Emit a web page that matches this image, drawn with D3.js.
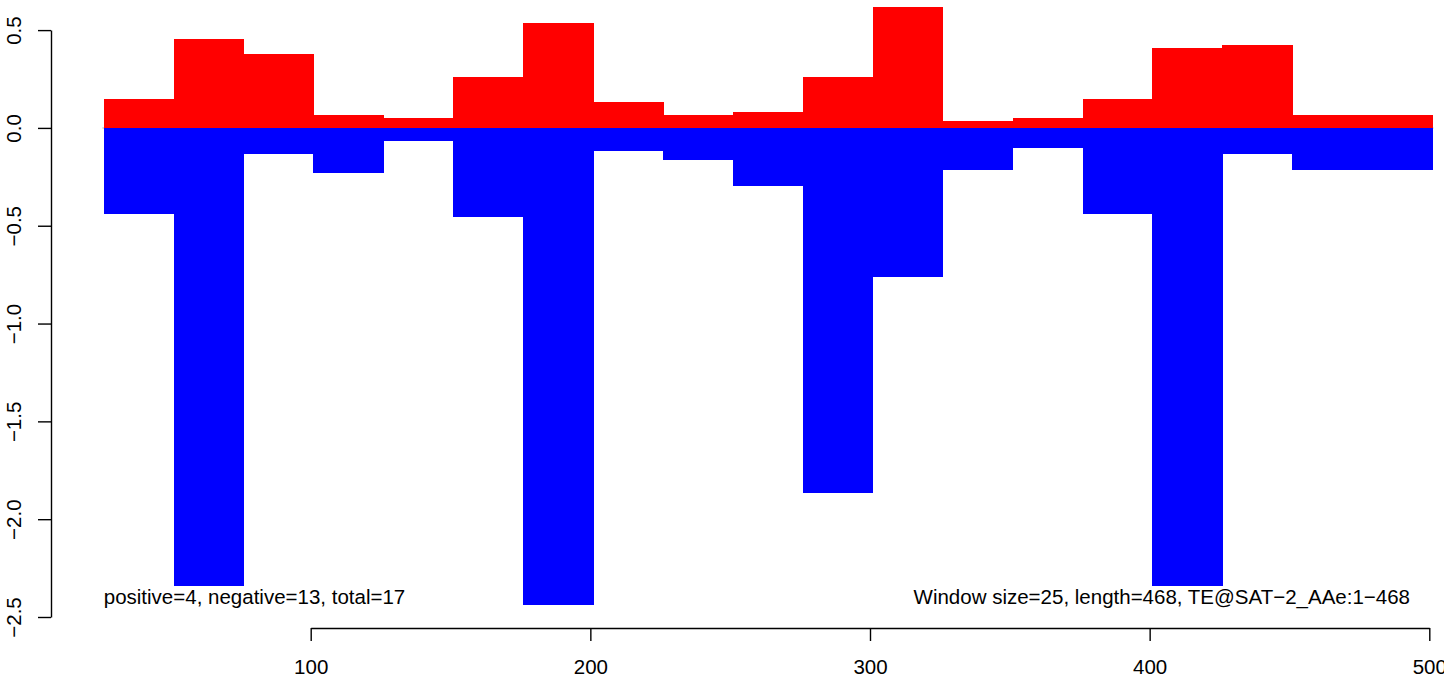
<!DOCTYPE html>
<html>
<head>
<meta charset="utf-8">
<script src="https://cdn.jsdelivr.net/npm/d3@7"></script>
<style>
  body { margin: 0; background: #fff; }
  svg text { font-family: "Liberation Sans", Arial, Helvetica, sans-serif; }
</style>
</head>
<body>
<div id="chart"></div>
<script>
// window scan: positive part in red, negative part in blue, one bar per window
const winStart = [26, 51, 76, 101, 126, 151, 176, 201, 226, 251, 276, 301, 326, 351, 376, 401, 426, 451, 476];
const winSize = 25;
const posVals = [0.147, 0.453, 0.377, 0.065, 0.050, 0.259, 0.535, 0.131, 0.065, 0.080,
                 0.259, 0.617, 0.034, 0.050, 0.147, 0.407, 0.423, 0.065, 0.065];
const negVals = [-0.441, -2.340, -0.134, -0.231, -0.068, -0.456, -2.437, -0.119, -0.165, -0.298,
                 -1.867, -0.763, -0.216, -0.104, -0.441, -2.340, -0.134, -0.216, -0.216];
const xTicks = [100, 200, 300, 400, 500];
const yTicks = [-2.5, -2.0, -1.5, -1.0, -0.5, 0.0, 0.5];
const leftNote = "positive=4, negative=13, total=17";
const rightNote = "Window size=25, length=468, TE@SAT\u22122_AAe:1\u2212468";

const width = 1444, height = 676;
const fs = 20.5;

const svg = d3.select("#chart")
    .append("svg")
    .attr("width", width)
    .attr("height", height);

let x = d3.scaleLinear()
    .domain([100, 500])
    .range([310.7, 1429.3]);

let y = d3.scaleLinear()
    .domain([-2.5, 0.5])
    .range([617, 30.1]);

const bars = winStart.map((s, i) => ({ s: s, pos: posVals[i], neg: negVals[i] }));

// zero line behind the bars
svg.append("line")
    .attr("x1", x(winStart[0] - 0.5))
    .attr("x2", x(winStart[winStart.length - 1] + winSize + 0.5))
    .attr("y1", y(0))
    .attr("y2", y(0))
    .attr("stroke", "#d0d0d0")
    .attr("stroke-width", 1.5);

svg.append("g")
    .attr("fill", "#ff0000")
    .attr("shape-rendering", "crispEdges")
    .selectAll("rect")
    .data(bars)
    .join("rect")
    .attr("x", d => x(d.s))
    .attr("width", d => x(d.s + winSize) - x(d.s) + 0.5)
    .attr("y", d => y(d.pos))
    .attr("height", d => y(0) - y(d.pos));

svg.append("g")
    .attr("fill", "#0000ff")
    .attr("shape-rendering", "crispEdges")
    .selectAll("rect")
    .data(bars)
    .join("rect")
    .attr("x", d => x(d.s))
    .attr("width", d => x(d.s + winSize) - x(d.s) + 0.5)
    .attr("y", y(0))
    .attr("height", d => y(d.neg) - y(0));

// axes
const yAxis = svg.append("g")
    .attr("transform", "translate(51,0)")
    .call(d3.axisLeft(y)
        .tickValues(yTicks)
        .tickSize(13)
        .tickSizeOuter(0));

yAxis.selectAll(".tick text")
    .attr("transform", "rotate(-90)")
    .attr("x", 0)
    .attr("y", -30)
    .attr("dy", 0)
    .attr("text-anchor", "middle")
    .text(d => d3.format(".1f")(d).replace("-", "\u2212"));

const xAxis = svg.append("g")
    .attr("transform", "translate(0,628)")
    .call(d3.axisBottom(x)
        .tickValues(xTicks)
        .tickFormat(d3.format("d"))
        .tickSize(13)
        .tickSizeOuter(0));

xAxis.selectAll("text")
    .attr("y", 46)
    .attr("dy", 0);

svg.selectAll(".tick text")
    .attr("fill", "#000")
    .style("font-size", fs + "px");
svg.selectAll(".domain, .tick line")
    .attr("stroke", "#000")
    .attr("stroke-width", 1.4);

// notes inside the plot
svg.append("text")
    .attr("x", x(winStart[0]))
    .attr("y", 604)
    .style("font-size", fs + "px")
    .text(leftNote);

svg.append("text")
    .attr("x", 1410)
    .attr("y", 604)
    .attr("text-anchor", "end")
    .style("font-size", fs + "px")
    .text(rightNote);
</script>
</body>
</html>
